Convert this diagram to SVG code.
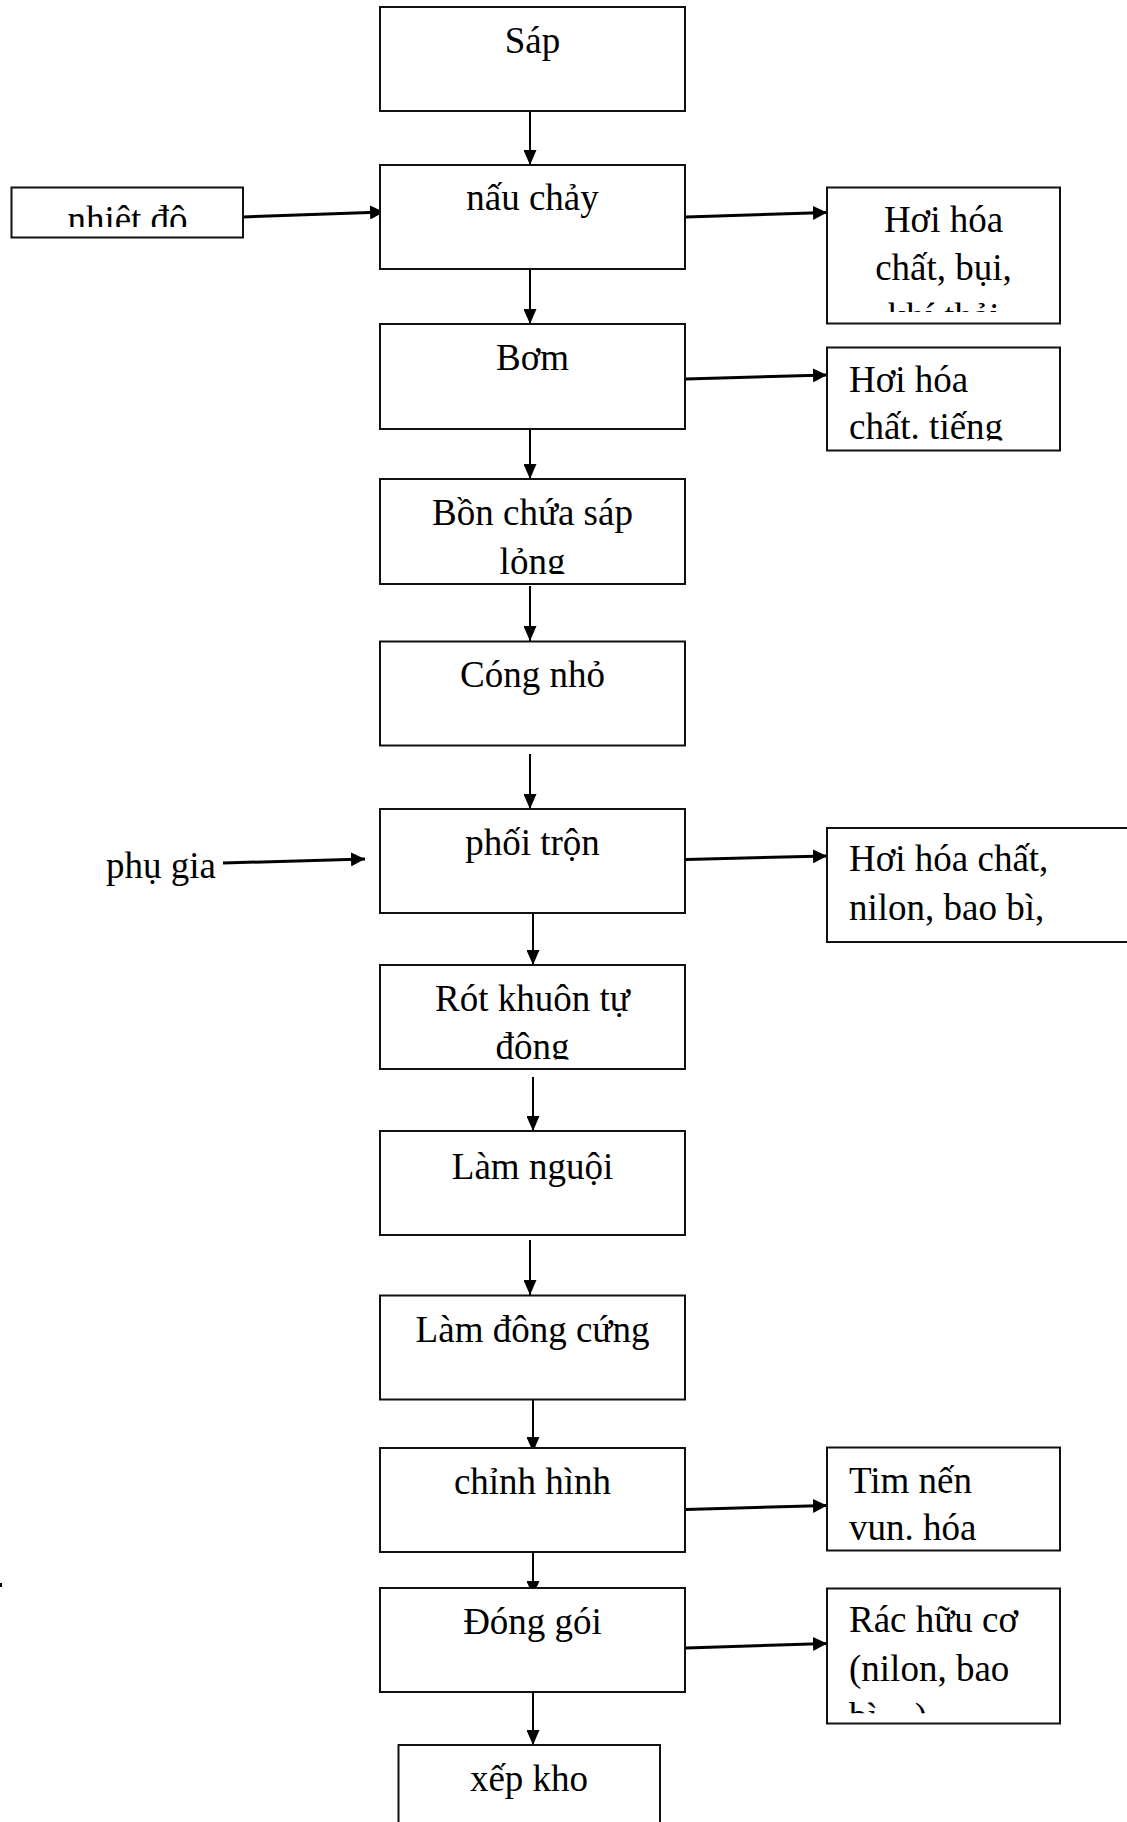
<svg xmlns="http://www.w3.org/2000/svg" width="1127" height="1822" viewBox="0 0 1127 1822">
<style>
.box{fill:#fff;stroke:#111;stroke-width:2}
.t{font-family:"Liberation Serif","Times New Roman",serif;font-size:37px;fill:#000}
.c{text-anchor:middle}
.v{stroke:#000;stroke-width:2;fill:none}
.h{stroke:#000;stroke-width:3;fill:none}
</style>
<defs>
<marker id="av" markerUnits="userSpaceOnUse" viewBox="0 0 15 13" refX="15" refY="6.5" markerWidth="15" markerHeight="13" orient="auto"><path d="M0,0 L15,6.5 L0,13 Z" fill="#000"/></marker>
<marker id="ah" markerUnits="userSpaceOnUse" viewBox="0 0 14 14" refX="14" refY="7" markerWidth="14" markerHeight="14" orient="auto"><path d="M0,0 L14,7 L0,14 Z" fill="#000"/></marker>
<clipPath id="c-bon"><rect x="380" y="479" width="305" height="95"/></clipPath>
<clipPath id="c-rot"><rect x="380" y="965" width="305" height="94.5"/></clipPath>
<clipPath id="c-nd"><rect x="11" y="187" width="232" height="40"/></clipPath>
<clipPath id="c-s1"><rect x="827" y="187" width="233" height="125"/></clipPath>
<clipPath id="c-s2"><rect x="827" y="347" width="233" height="93.5"/></clipPath>
<clipPath id="c-s4"><rect x="827" y="1447" width="233" height="93.7"/></clipPath>
<clipPath id="c-s5"><rect x="827" y="1588" width="233" height="125.3"/></clipPath>
</defs>

<g id="connectors">
<line class="v" x1="530" y1="111" x2="530" y2="165" marker-end="url(#av)"/>
<line class="v" x1="530" y1="269" x2="530" y2="324" marker-end="url(#av)"/>
<line class="v" x1="530" y1="429" x2="530" y2="479" marker-end="url(#av)"/>
<line class="v" x1="530" y1="586" x2="530" y2="641" marker-end="url(#av)"/>
<line class="v" x1="530" y1="754" x2="530" y2="809" marker-end="url(#av)"/>
<line class="v" x1="533" y1="911" x2="533" y2="965" marker-end="url(#av)"/>
<line class="v" x1="533" y1="1077" x2="533" y2="1131" marker-end="url(#av)"/>
<line class="v" x1="530" y1="1240" x2="530" y2="1295" marker-end="url(#av)"/>
<line class="v" x1="533" y1="1400" x2="533" y2="1452" marker-end="url(#av)"/>
<line class="v" x1="533" y1="1543" x2="533" y2="1596" marker-end="url(#av)"/>
<line class="v" x1="533" y1="1692" x2="533" y2="1745" marker-end="url(#av)"/>
<line class="h" x1="243" y1="217" x2="384" y2="212" marker-end="url(#ah)"/>
<line class="h" x1="686" y1="217" x2="827" y2="212.5" marker-end="url(#ah)"/>
<line class="h" x1="686" y1="379" x2="827" y2="375" marker-end="url(#ah)"/>
<line class="h" x1="223" y1="863" x2="365" y2="859" marker-end="url(#ah)"/>
<line class="h" x1="686" y1="859.5" x2="827" y2="856" marker-end="url(#ah)"/>
<line class="h" x1="686" y1="1509.5" x2="827" y2="1505.5" marker-end="url(#ah)"/>
<line class="h" x1="686" y1="1648" x2="827" y2="1643.5" marker-end="url(#ah)"/>
</g>

<g id="n-sap"><rect class="box" x="380" y="7" width="305" height="104"/><text class="t c" x="532.5" y="53">Sáp</text></g>
<g id="n-naucha"><rect class="box" x="380" y="165" width="305" height="104"/><text class="t c" x="532.5" y="210">nấu chảy</text></g>
<g id="n-bom"><rect class="box" x="380" y="324" width="305" height="105"/><text class="t c" x="532.5" y="370">Bơm</text></g>
<g id="n-bon"><rect class="box" x="380" y="479" width="305" height="105"/><g clip-path="url(#c-bon)"><text class="t c" x="532.5" y="525">Bồn chứa sáp</text><text class="t c" x="532.5" y="573.5">lỏng</text></g></g>
<g id="n-cong"><rect class="box" x="380" y="641.5" width="305" height="104"/><text class="t c" x="532.5" y="687">Cóng nhỏ</text></g>
<g id="n-phoi"><rect class="box" x="380" y="809" width="305" height="104"/><text class="t c" x="532.5" y="855">phối trộn</text></g>
<g id="n-rot"><rect class="box" x="380" y="965" width="305" height="104"/><g clip-path="url(#c-rot)"><text class="t c" x="532.5" y="1011">Rót khuôn tự</text><text class="t c" x="532.5" y="1059">động</text></g></g>
<g id="n-lamnguoi"><rect class="box" x="380" y="1131" width="305" height="104"/><text class="t c" x="532.5" y="1178.5">Làm nguội</text></g>
<g id="n-dongcung"><rect class="box" x="380" y="1295.5" width="305" height="104"/><text class="t c" x="532.5" y="1342">Làm đông cứng</text></g>
<g id="n-chinhhinh"><rect class="box" x="380" y="1448" width="305" height="104"/><text class="t c" x="532.5" y="1493.5">chỉnh hình</text></g>
<g id="n-donggoi"><rect class="box" x="380" y="1588" width="305" height="104"/><text class="t c" x="532.5" y="1633.5">Đóng gói</text></g>
<g id="n-xepkho"><rect class="box" x="398.5" y="1745" width="261.5" height="90"/><text class="t c" x="529" y="1791">xếp kho</text></g>

<g id="n-nhietdo"><rect class="box" x="11.5" y="187.5" width="231.5" height="50"/><g clip-path="url(#c-nd)"><text class="t c" x="127.5" y="232">nhiệt độ</text></g></g>
<g id="n-phugia"><text class="t" x="106" y="877.5">phụ gia</text></g>

<g id="n-s1"><rect class="box" x="827" y="187.5" width="233" height="136"/><g clip-path="url(#c-s1)"><text class="t c" x="943.5" y="231.5">Hơi hóa</text><text class="t c" x="943.5" y="280">chất, bụi,</text><text class="t c" x="943.5" y="328.5">khí thải</text></g></g>
<g id="n-s2"><rect class="box" x="827" y="347.5" width="233" height="103"/><g clip-path="url(#c-s2)"><text class="t" x="849" y="391.5">Hơi hóa</text><text class="t" x="849" y="439">chất. tiếng</text></g></g>
<g id="n-s3"><rect class="box" x="827" y="828" width="330" height="114"/><text class="t" x="849" y="870.5">Hơi hóa chất,</text><text class="t" x="849" y="920">nilon, bao bì,</text></g>
<g id="n-s4"><rect class="box" x="827" y="1447.5" width="233" height="103"/><g clip-path="url(#c-s4)"><text class="t" x="849" y="1492.5">Tim nến</text><text class="t" x="849" y="1540">vụn. hóa</text></g></g>
<g id="n-s5"><rect class="box" x="827" y="1588.5" width="233" height="135"/><g clip-path="url(#c-s5)"><text class="t" x="849" y="1631.5">Rác hữu cơ</text><text class="t" x="849" y="1680.5">(nilon, bao</text><text class="t" x="849" y="1729">bì…)</text></g></g>
<rect x="0" y="1583" width="2" height="4" fill="#000"/>
</svg>
